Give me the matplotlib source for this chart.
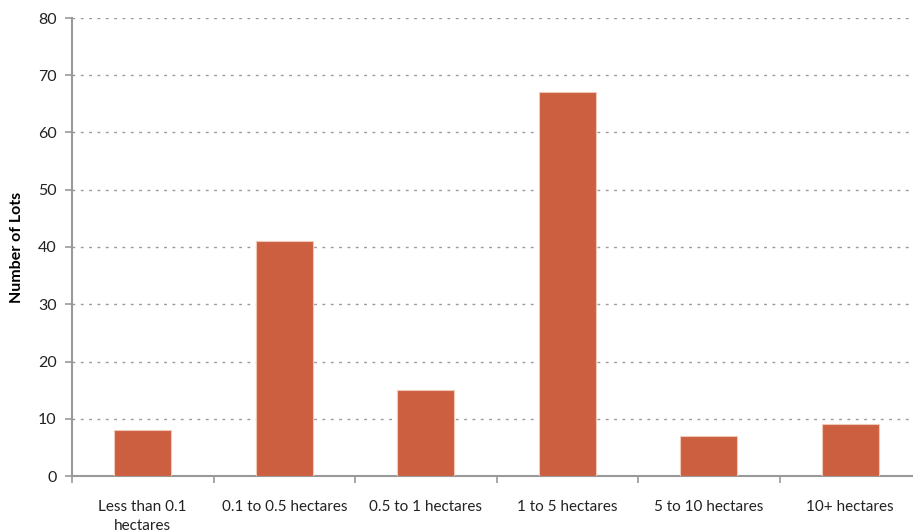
import matplotlib.pyplot as plt
import numpy as np

plt.rcParams['font.family'] = ['Lato', 'DejaVu Sans']

categories = ['Less than 0.1\nhectares', '0.1 to 0.5 hectares', '0.5 to 1 hectares',
              '1 to 5 hectares', '5 to 10 hectares', '10+ hectares']
lots = [8, 41, 15, 67, 7, 9]

fig = plt.figure(figsize=(9.13, 5.32), dpi=100)
ax = fig.add_axes([72 / 913, 1 - 476 / 532, 849 / 913, 458 / 532])

x = np.arange(len(categories))
ax.bar(x, lots, width=0.4, color='#CD5F41', edgecolor='#F0C8B8', linewidth=0.8, zorder=3)

ax.set_xlim(-0.5, len(categories) - 0.5)
ax.set_ylim(0, 80)
ax.set_yticks(np.arange(0, 81, 10))
ax.set_xticks(x)
ax.set_xticklabels(categories, fontsize=11, color='#222222', linespacing=1.45)
ax.set_xticks(np.arange(-0.5, len(categories)), minor=True)
ax.tick_params(axis='x', which='major', length=0, pad=17)
ax.tick_params(axis='x', which='minor', length=5, color='#999999', width=1.2)
ax.tick_params(axis='y', length=5, color='#999999', width=1.2, labelsize=11.5, pad=6, labelcolor='#222222')

ax.yaxis.grid(True, color='#999999', linestyle=(0, (2, 4)), linewidth=1)
for s in ['top', 'right']:
    ax.spines[s].set_visible(False)
for s in ['left', 'bottom']:
    ax.spines[s].set_color('#999999')
    ax.spines[s].set_linewidth(1.5)

ax.set_ylabel('Number of Lots', fontsize=11.5, fontweight='bold', labelpad=10)

fig.savefig('out.png', dpi=100)
